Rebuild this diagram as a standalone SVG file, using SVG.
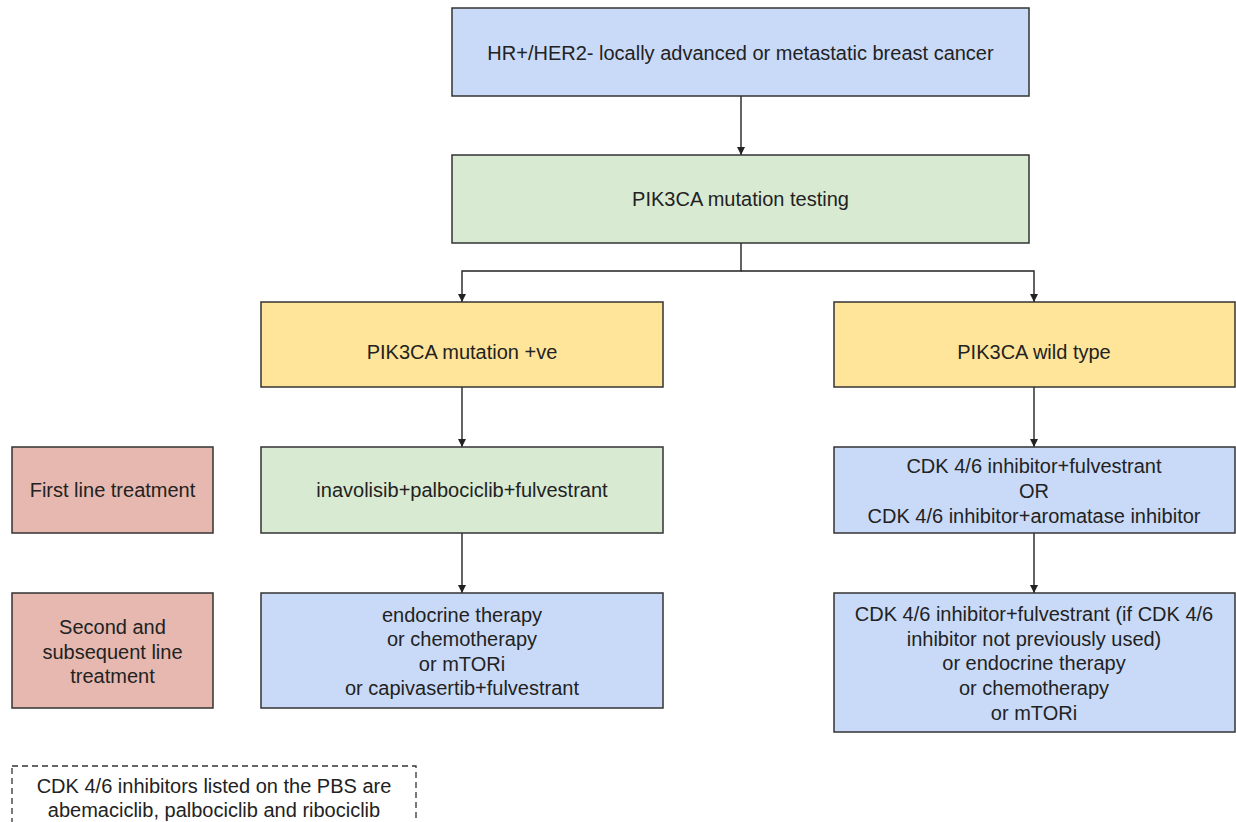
<svg xmlns="http://www.w3.org/2000/svg" width="1236" height="822" viewBox="0 0 1236 822">
<style>
.box{stroke:#333;stroke-width:1.5}
.blue{fill:#c9daf8}.green{fill:#d9ead3}.yellow{fill:#ffe599}.red{fill:#e6b8af}
text{font-family:"Liberation Sans",Arial,sans-serif;font-size:20px;fill:#222;text-anchor:middle}
.conn{fill:none;stroke:#222;stroke-width:1.4}
</style>
<defs>
<marker id="arr" viewBox="0 0 10 10" refX="10" refY="5" markerWidth="8" markerHeight="8" markerUnits="userSpaceOnUse" orient="auto">
<path d="M0,0 L10,5 L0,10 z" fill="#222"/>
</marker>
</defs>
<rect width="1236" height="822" fill="#fff"/>
<g id="connectors">
<path class="conn" d="M741,96 V155" marker-end="url(#arr)"/>
<path class="conn" d="M741,243 V271 H462 V302" marker-end="url(#arr)"/>
<path class="conn" d="M741,271 H1034 V302" marker-end="url(#arr)"/>
<path class="conn" d="M462,387 V447" marker-end="url(#arr)"/>
<path class="conn" d="M1034,387 V447" marker-end="url(#arr)"/>
<path class="conn" d="M462,533 V593" marker-end="url(#arr)"/>
<path class="conn" d="M1034,533 V593" marker-end="url(#arr)"/>
</g>
<g id="n-top"><rect class="box blue" x="452" y="8" width="577" height="88"/><text x="740.5" y="60">HR+/HER2- locally advanced or metastatic breast cancer</text></g>
<g id="n-test"><rect class="box green" x="452" y="155" width="577" height="88"/><text x="740.5" y="206">PIK3CA mutation testing</text></g>
<g id="n-pos"><rect class="box yellow" x="261" y="302" width="402" height="85"/><text x="462" y="359">PIK3CA mutation +ve</text></g>
<g id="n-wild"><rect class="box yellow" x="834" y="302" width="401" height="85"/><text x="1034" y="359">PIK3CA wild type</text></g>
<g id="n-first"><rect class="box red" x="12" y="447" width="201" height="86"/><text x="112.5" y="497">First line treatment</text></g>
<g id="n-pos1"><rect class="box green" x="261" y="447" width="402" height="86"/><text x="462" y="497">inavolisib+palbociclib+fulvestrant</text></g>
<g id="n-wild1"><rect class="box blue" x="834" y="447" width="401" height="86"/><text x="1034" y="473">CDK 4/6 inhibitor+fulvestrant</text><text x="1034" y="498">OR</text><text x="1034" y="523">CDK 4/6 inhibitor+aromatase inhibitor</text></g>
<g id="n-second"><rect class="box red" x="12" y="593" width="201" height="115"/><text x="112.5" y="634">Second and</text><text x="112.5" y="659">subsequent line</text><text x="112.5" y="683">treatment</text></g>
<g id="n-pos2"><rect class="box blue" x="261" y="593" width="402" height="115"/><text x="462" y="622">endocrine therapy</text><text x="462" y="646">or chemotherapy</text><text x="462" y="671">or mTORi</text><text x="462" y="695">or capivasertib+fulvestrant</text></g>
<g id="n-wild2"><rect class="box blue" x="834" y="593" width="401" height="139"/><text x="1034" y="621">CDK 4/6 inhibitor+fulvestrant (if CDK 4/6</text><text x="1034" y="646">inhibitor not previously used)</text><text x="1034" y="670">or endocrine therapy</text><text x="1034" y="695">or chemotherapy</text><text x="1034" y="720">or mTORi</text></g>
<g id="n-note"><rect x="12" y="766" width="404" height="80" fill="none" stroke="#333" stroke-width="1.3" stroke-dasharray="6,4"/><text x="214" y="793">CDK 4/6 inhibitors listed on the PBS are</text><text x="214" y="817">abemaciclib, palbociclib and ribociclib</text></g>
</svg>
